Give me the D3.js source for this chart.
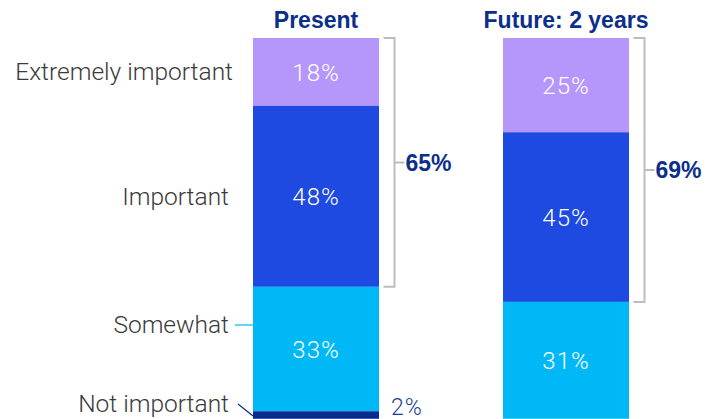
<!DOCTYPE html>
<html>
<head>
<meta charset="utf-8">
<script src="https://cdn.jsdelivr.net/npm/d3@7"></script>
<style>
  html, body { margin: 0; padding: 0; background: #fff; }
  svg { display: block; }
</style>
</head>
<body>
<svg id="chart" width="706" height="419"></svg>
<script>
// Importance levels, top of the stack first
const levels = ["Extremely important", "Important", "Somewhat", "Not important"];
const periods = ["Present", "Future: 2 years"];
const presentValues = [18, 48, 33, 2];
const futureValues = [25, 45, 31, 0];
// Share rating it "extremely important" or "important"
const topTwoTotals = [65, 69];

const colors = ["#b597fc", "#1e4ae2", "#00b8f5", "#0a2b8e"];
const navy = "#0b2f8a";
const lightFont = "Roboto, 'Liberation Sans', sans-serif";
const boldFont = "'Liberation Sans', Arial, sans-serif";

const svg = d3.select("#chart");

const barW = 126;
const x = d3.scalePoint().domain(periods).range([253, 503]);
const y = d3.scaleLinear().domain([0, 100]).range([38, 415]);

const series = [presentValues, futureValues];

periods.forEach((p, pi) => {
  const vals = series[pi];
  const ends = d3.cumsum(vals);
  const starts = ends.map((e, i) => e - vals[i]);
  const x0 = x(p);
  const g = svg.append("g");
  vals.forEach((v, i) => {
    if (v <= 0) return;
    g.append("rect")
      .attr("x", x0)
      .attr("y", y(starts[i]))
      .attr("width", barW)
      .attr("height", y(ends[i]) - y(starts[i]))
      .attr("fill", colors[i]);
    if (v >= 5) {
      g.append("text")
        .attr("x", x0 + barW / 2)
        .attr("y", (y(starts[i]) + y(ends[i])) / 2)
        .attr("dy", "0.38em")
        .attr("text-anchor", "middle")
        .attr("font-family", lightFont)
        .attr("font-weight", 300)
        .attr("font-size", 24)
        .attr("letter-spacing", 1)
        .attr("fill", "#ffffff")
        .text(v + "%");
    }
  });

  // period title
  svg.append("text")
    .attr("x", x0 + barW / 2)
    .attr("y", 28)
    .attr("text-anchor", "middle")
    .attr("font-family", boldFont)
    .attr("font-weight", 700)
    .attr("font-size", 23)
    .attr("fill", navy)
    .text(p);

  // bracket spanning the top two levels
  const bx = x0 + barW + 15.5;
  const top = y(0), bottom = y(ends[1]);
  const mid = (top + bottom) / 2;
  svg.append("path")
    .attr("d", `M${bx - 11},${top} H${bx} V${bottom} H${bx - 11} M${bx},${mid} H${bx + 10}`)
    .attr("fill", "none")
    .attr("stroke", "#bdbdbd")
    .attr("stroke-width", 2);
  svg.append("text")
    .attr("x", bx + 11)
    .attr("y", mid)
    .attr("dy", "0.36em")
    .attr("font-family", boldFont)
    .attr("font-weight", 700)
    .attr("font-size", 23)
    .attr("fill", navy)
    .text(topTwoTotals[pi] + "%");
});

// category labels on the left of the first bar
const pv = presentValues;
const pEnds = d3.cumsum(pv);
const pStarts = pEnds.map((e, i) => e - pv[i]);
const labelY = [71, 196, 324, 403];
const labelX = [233, 229, 229, 229];
levels.forEach((lvl, i) => {
  svg.append("text")
    .attr("x", labelX[i])
    .attr("y", labelY[i])
    .attr("dy", "0.36em")
    .attr("text-anchor", "end")
    .attr("font-family", lightFont)
    .attr("font-weight", 300)
    .attr("font-size", 24.5)
    .attr("fill", "#3a3a3a")
    .text(lvl);
});

// leader lines
svg.append("line")
  .attr("x1", 235).attr("x2", 253)
  .attr("y1", 325).attr("y2", 325)
  .attr("stroke", colors[2]).attr("stroke-width", 1.2);
svg.append("line")
  .attr("x1", 238).attr("y1", 404)
  .attr("x2", 253).attr("y2", (y(pStarts[3]) + y(pEnds[3])) / 2 + 1)
  .attr("stroke", colors[3]).attr("stroke-width", 1.2);

// small-segment value beside the bar
svg.append("text")
  .attr("x", 391)
  .attr("y", 415)
  .attr("font-family", lightFont)
  .attr("font-weight", 300)
  .attr("font-size", 23)
  .attr("letter-spacing", 1)
  .attr("fill", "#1a3f99")
  .text(presentValues[3] + "%");
</script>
</body>
</html>
